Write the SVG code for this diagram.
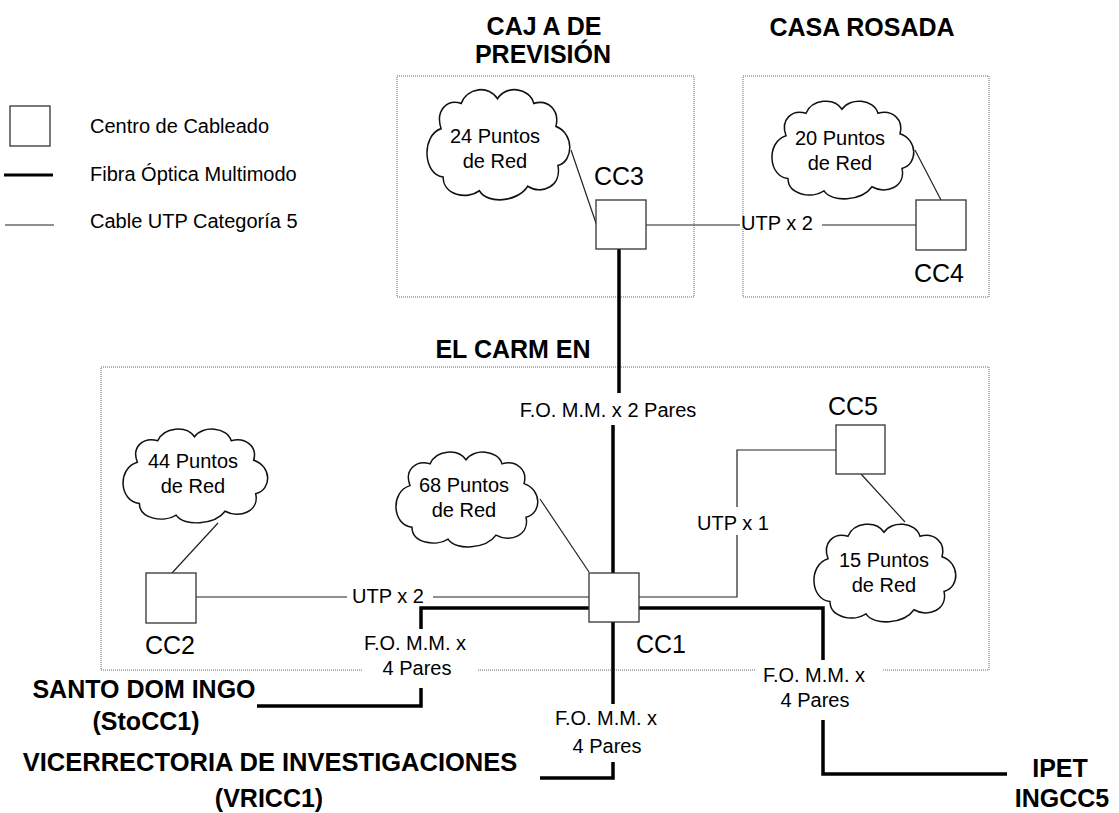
<svg xmlns="http://www.w3.org/2000/svg" xmlns:xlink="http://www.w3.org/1999/xlink" width="1119" height="813" viewBox="0 0 1119 813">
<style>
  text { font-family: "Liberation Sans", Arial, sans-serif; fill: #000; }
  .t { font-size: 20px; }
  .c { text-anchor: middle; }
  .cc { font-size: 25px; text-anchor: middle; }
  .h { font-size: 25px; font-weight: bold; text-anchor: middle; }
  .box { fill: #fff; stroke: #333; stroke-width: 1.3; }
  .area { fill: none; stroke: #666; stroke-width: 1; stroke-dasharray: 1 1; }
  .thin { fill: none; stroke: #222; stroke-width: 1.2; }
  .thick { fill: none; stroke: #000; stroke-width: 3.5; stroke-linejoin: miter; }
  .cloud { fill: #fff; stroke: #111; stroke-width: 1.5; vector-effect: non-scaling-stroke; }
</style>
<defs>
  <path id="cloudShape" d="M 18,38 C 12,22 24,12 38,16 C 44,2 66,0 74,12 C 82,0 106,2 110,16 C 124,12 136,22 132,36 C 150,42 150,66 134,70 C 138,88 118,96 104,88 C 94,102 64,104 56,92 C 44,100 20,96 20,80 C 0,78 -2,44 18,38 Z"/>
</defs>
<rect width="1119" height="813" fill="#fff"/>

<g id="legend">
  <rect class="box" x="10" y="106" width="40" height="40"/>
  <text class="t" x="90" y="133">Centro de Cableado</text>
  <line x1="4" y1="175" x2="53" y2="175" stroke="#000" stroke-width="3"/>
  <text class="t" x="90" y="181">Fibra Óptica Multimodo</text>
  <line x1="5" y1="225" x2="54" y2="225" stroke="#222" stroke-width="1.2"/>
  <text class="t" x="90" y="228">Cable UTP Categoría 5</text>
</g>

<g id="areas">
  <g id="area-caja">
    <rect class="area" x="397" y="76" width="297" height="221"/>
    <text class="h" x="544" y="35">CAJ A DE</text>
    <text class="h" x="543" y="63">PREVISIÓN</text>
  </g>
  <g id="area-casa">
    <rect class="area" x="743" y="76" width="246" height="221"/>
    <text class="h" x="862" y="36">CASA ROSADA</text>
  </g>
  <g id="area-carmen">
    <path class="area" d="M101,367 H989 V670 H883 M755,670 H477 M362,670 H101 V367"/>
    <text class="h" x="513" y="358">EL CARM EN</text>
  </g>
</g>

<g id="connectors">
  <!-- cloud links -->
  <line class="thin" x1="571" y1="150" x2="597" y2="226"/>
  <line class="thin" x1="915" y1="150" x2="941" y2="200"/>
  <line class="thin" x1="218" y1="523" x2="172" y2="573"/>
  <line class="thin" x1="540" y1="499" x2="589" y2="572"/>
  <line class="thin" x1="861" y1="474" x2="905" y2="522"/>
  <!-- UTP CC3 - CC4 -->
  <path class="thin" d="M646,225 H740 M822,225 H916"/>
  <text class="t c" x="777" y="230">UTP x 2</text>
  <!-- UTP CC2 - CC1 -->
  <path class="thin" d="M196,597 H347 M433,597 H589"/>
  <text class="t c" x="388" y="603">UTP x 2</text>
  <!-- UTP CC1 - CC5 -->
  <path class="thin" d="M639,597 H737 V535 M737,507 V450 H836"/>
  <text class="t c" x="733" y="530">UTP x 1</text>
  <!-- FO CC3 - CC1 -->
  <path class="thick" d="M619,249 V393 M613,425 V573"/>
  <text class="t c" x="608" y="417">F.O. M.M. x 2 Pares</text>
  <!-- FO CC1 - Santo Domingo -->
  <path class="thick" d="M589,608 H421 V629 M421,688 V706 H257"/>
  <text class="t c" x="415" y="650">F.O. M.M. x</text>
  <text class="t c" x="417" y="675">4 Pares</text>
  <!-- FO CC1 - VRI -->
  <path class="thick" d="M613,622 V704 M613,762 V778 H540"/>
  <text class="t c" x="606" y="725">F.O. M.M. x</text>
  <text class="t c" x="607" y="753">4 Pares</text>
  <!-- FO CC1 - IPET -->
  <path class="thick" d="M639,608 H823 V660 M823,720 V774 H1007"/>
  <text class="t c" x="814" y="682">F.O. M.M. x</text>
  <text class="t c" x="815" y="707">4 Pares</text>
</g>

<g id="cloud-24">
  <use xlink:href="#cloudShape" class="cloud" transform="translate(423,85) scale(1.007,1.15)"/>
  <text class="t c" x="495" y="143">24 Puntos</text>
  <text class="t c" x="495" y="168">de Red</text>
</g>
<g id="cloud-20">
  <use xlink:href="#cloudShape" class="cloud" transform="translate(768,97) scale(1,1.02)"/>
  <text class="t c" x="840" y="145">20 Puntos</text>
  <text class="t c" x="840" y="170">de Red</text>
</g>
<g id="cloud-44">
  <use xlink:href="#cloudShape" class="cloud" transform="translate(119,425) scale(1.02,0.98)"/>
  <text class="t c" x="193" y="468">44 Puntos</text>
  <text class="t c" x="193" y="493">de Red</text>
</g>
<g id="cloud-68">
  <use xlink:href="#cloudShape" class="cloud" transform="translate(392,448) scale(1,0.99)"/>
  <text class="t c" x="464" y="492">68 Puntos</text>
  <text class="t c" x="464" y="517">de Red</text>
</g>
<g id="cloud-15">
  <use xlink:href="#cloudShape" class="cloud" transform="translate(810,520) scale(1,1.02)"/>
  <text class="t c" x="884" y="567">15 Puntos</text>
  <text class="t c" x="884" y="592">de Red</text>
</g>

<g id="CC3">
  <rect class="box" x="596" y="200" width="50" height="49"/>
  <text class="cc" x="619" y="185">CC3</text>
</g>
<g id="CC4">
  <rect class="box" x="916" y="200" width="50" height="50"/>
  <text class="cc" x="939" y="282">CC4</text>
</g>
<g id="CC2">
  <rect class="box" x="146" y="573" width="50" height="50"/>
  <text class="cc" x="170" y="654">CC2</text>
</g>
<g id="CC1">
  <rect class="box" x="589" y="573" width="50" height="49"/>
  <text class="cc" x="661" y="653">CC1</text>
</g>
<g id="CC5">
  <rect class="box" x="836" y="425" width="49" height="49"/>
  <text class="cc" x="853" y="415">CC5</text>
</g>

<g id="sites">
  <g id="santo-domingo">
    <text class="h" x="144" y="698">SANTO DOM INGO</text>
    <text class="h" x="146" y="730">(StoCC1)</text>
  </g>
  <g id="vri">
    <text class="h" x="270" y="771" style="font-size:25.5px">VICERRECTORIA DE INVESTIGACIONES</text>
    <text class="h" x="269" y="807">(VRICC1)</text>
  </g>
  <g id="ipet">
    <text class="h" x="1060" y="777">IPET</text>
    <text class="h" x="1062" y="807">INGCC5</text>
  </g>
</g>
</svg>
